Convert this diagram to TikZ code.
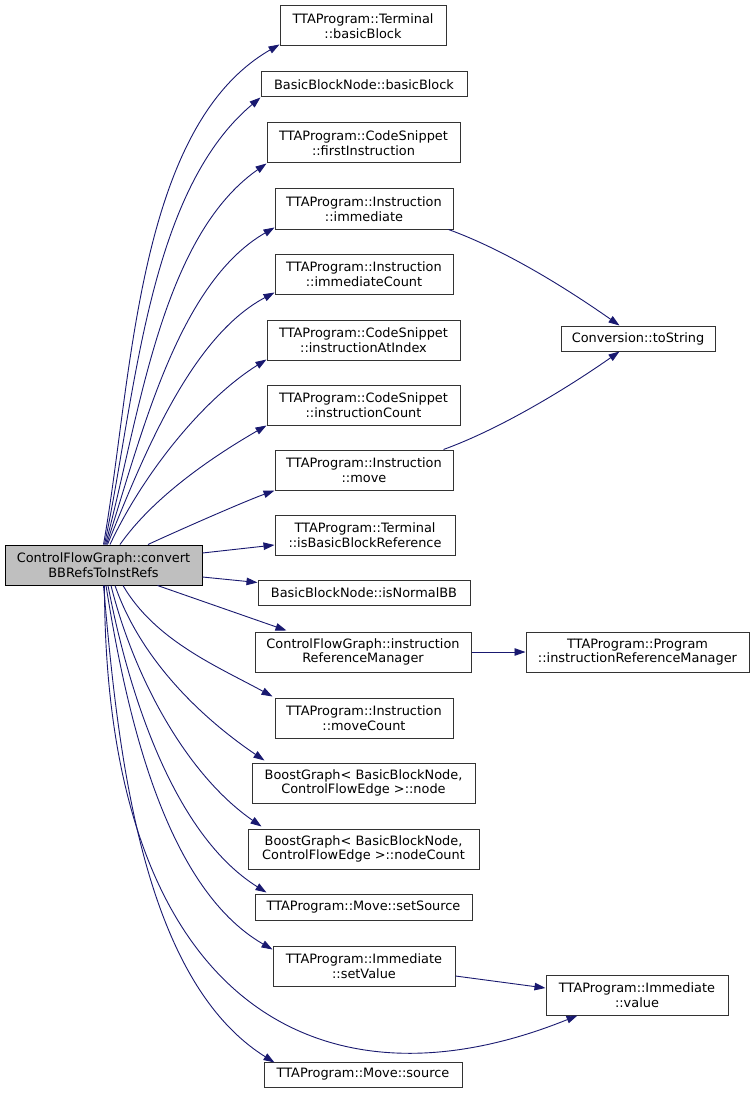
\documentclass[tikz,border=0pt]{standalone}
\usepackage{fontspec}
\setmainfont{DejaVu Sans}
\usetikzlibrary{arrows.meta,calc}
\definecolor{callblue}{RGB}{25,25,112}
\definecolor{maingrey}{RGB}{191,191,191}

\begin{document}
\begin{tikzpicture}[x=1pt,y=1pt,yscale=-1,xscale=1,
  fnbox/.style 2 args={draw=black!80,line width=1pt,fill=white,inner sep=0pt,align=center,
    minimum width=#1,minimum height=#2,font=\fontsize{12.9}{14.5}\selectfont},
  mainbox/.style={fnbox={197}{40},draw=black,fill=maingrey},
  call/.style={draw=callblue,line width=0.9pt,-{Triangle[length=11pt,width=7.5pt]}}]
%set diagram left start at 0, and has height of 1094
\useasboundingbox[fill=white] (0,0) rectangle (755,1094);

%Shape: Rectangle (caller)
\node[mainbox] (main) at (103.5,565) {ControlFlowGraph::convert\\BBRefsToInstRefs};

%Shape: Rectangle (callees, first column)
\node[fnbox={166}{40}] (termbb) at (363,26) {TTAProgram::Terminal\\::basicBlock};
\node[fnbox={206}{25}] (bbnbb) at (364,84.5) {BasicBlockNode::basicBlock};
\node[fnbox={193}{40}] (firstinst) at (363.5,143) {TTAProgram::CodeSnippet\\::firstInstruction};
\node[fnbox={178}{40}] (immediate) at (364,209) {TTAProgram::Instruction\\::immediate};
\node[fnbox={178}{40}] (immcount) at (364,274) {TTAProgram::Instruction\\::immediateCount};
\node[fnbox={193}{40}] (instatidx) at (363.5,340) {TTAProgram::CodeSnippet\\::instructionAtIndex};
\node[fnbox={193}{40}] (instcount) at (363.5,405) {TTAProgram::CodeSnippet\\::instructionCount};
\node[fnbox={178}{40}] (move) at (364,470) {TTAProgram::Instruction\\::move};
\node[fnbox={180}{40}] (isbbref) at (365,535) {TTAProgram::Terminal\\::isBasicBlockReference};
\node[fnbox={212}{25}] (isnormal) at (364,592.5) {BasicBlockNode::isNormalBB};
\node[fnbox={216}{40}] (cfgirm) at (363,652) {ControlFlowGraph::instruction\\ReferenceManager};
\node[fnbox={178}{40}] (movecount) at (364,718) {TTAProgram::Instruction\\::moveCount};
\node[fnbox={223}{40}] (bgnode) at (363.5,783) {BoostGraph< BasicBlockNode,\\ ControlFlowEdge >::node};
\node[fnbox={231}{40}] (bgnodecount) at (363.5,849) {BoostGraph< BasicBlockNode,\\ ControlFlowEdge >::nodeCount};
\node[fnbox={217}{26}] (setsource) at (363.5,907) {TTAProgram::Move::setSource};
\node[fnbox={182}{40}] (setvalue) at (364,966) {TTAProgram::Immediate\\::setValue};
\node[fnbox={198}{25}] (source) at (363,1074.5) {TTAProgram::Move::source};

%Shape: Rectangle (callees, second column)
\node[fnbox={154}{25}] (tostring) at (638,338.5) {Conversion::toString};
\node[fnbox={223}{40}] (progirm) at (637.5,652) {TTAProgram::Program\\::instructionReferenceManager};
\node[fnbox={182}{40}] (immvalue) at (637,995) {TTAProgram::Immediate\\::value};

%Curves upwards
\draw[call] (main.north) .. controls +(29,-163.5) and +(-144,83) .. ($(termbb.south west)+(0,-2)$);
\draw[call] ($(main.north)+(1,0)$) .. controls +(30.9,-145.4) and +(-113.8,95.5) .. (bbnbb.south west);
\draw[call] ($(main.north)+(2,0)$) .. controls +(33.6,-125.5) and +(-106.4,74.5) .. (firstinst.south west);
\draw[call] ($(main.north)+(3,0)$) .. controls +(34.8,-107.2) and +(-97.6,56.4) .. ($(immediate.south west)+(0,-2)$);
\draw[call] ($(main.north)+(4,0)$) .. controls +(35.6,-88.1) and +(-83.9,44.6) .. ($(immcount.south west)+(0,-2)$);
\draw[call] ($(main.north)+(6.5,0)$) .. controls +(32.2,-69.1) and +(-64.6,40.4) .. ($(instatidx.south west)+(0,-1)$);
\draw[call] ($(main.north)+(16.5,0)$) .. controls +(34.1,-48.7) and +(-51.4,29.7) .. (instcount.south west);
\draw[call] ($(main.north)+(44.5,0)$) .. controls +(29.5,-13.7) and +(-30.5,11.1) .. (move.south west);

%Straight Lines
\draw[call] ($(main.east)+(0,-12)$) -- ($(isbbref.west)+(0,10)$);
\draw[call] ($(main.east)+(0,12)$) -- ($(isnormal.north west)+(0,3)$);
\draw[call] ($(main.south)+(54,0)$) -- ($(cfgirm.north west)+(32,-1)$);

%Curves downwards
\draw[call] ($(main.south)+(19.5,0)$) .. controls +(32,55) and +(-55,-30) .. ($(movecount.north west)+(-2,-1)$);
\draw[call] ($(main.south)+(11.5,0)$) .. controls +(26,75) and +(-62,-42) .. ($(bgnode.north west)+(13,-2)$);
\draw[call] ($(main.south)+(7.5,0)$) .. controls +(23,92) and +(-75,-52) .. ($(bgnodecount.north west)+(14,-2)$);
\draw[call] ($(main.south)+(4.5,0)$) .. controls +(21,110) and +(-92.1,-57.5) .. ($(setsource.north west)+(12,-1)$);
\draw[call] ($(main.south)+(2.5,0)$) .. controls +(19.7,124.2) and +(-108.9,-62.9) .. ($(setvalue.north west)+(0,4)$);
\draw[call] ($(main.south)+(1,0)$) .. controls +(0,415) and +(-260,105) .. ($(immvalue.south west)+(32,0)$);
\draw[call] (main.south) .. controls +(13.9,158.4) and +(-134.8,-84.3) .. ($(source.north west)+(11,1)$);

%Second level calls
\draw[call] ($(immediate.south east)+(-5,0)$) .. controls +(58.3,21.2) and +(-50.8,-35.6) .. ($(tostring.north west)+(59,0)$);
\draw[call] ($(move.north east)+(-10,0)$) .. controls +(58.3,-21.2) and +(-50.8,35.6) .. ($(tostring.south west)+(59,0)$);
\draw[call] (cfgirm.east) -- (progirm.west);
\draw[call] ($(setvalue.east)+(0,10)$) -- ($(immvalue.west)+(0,-7)$);
\end{tikzpicture}
\end{document}
